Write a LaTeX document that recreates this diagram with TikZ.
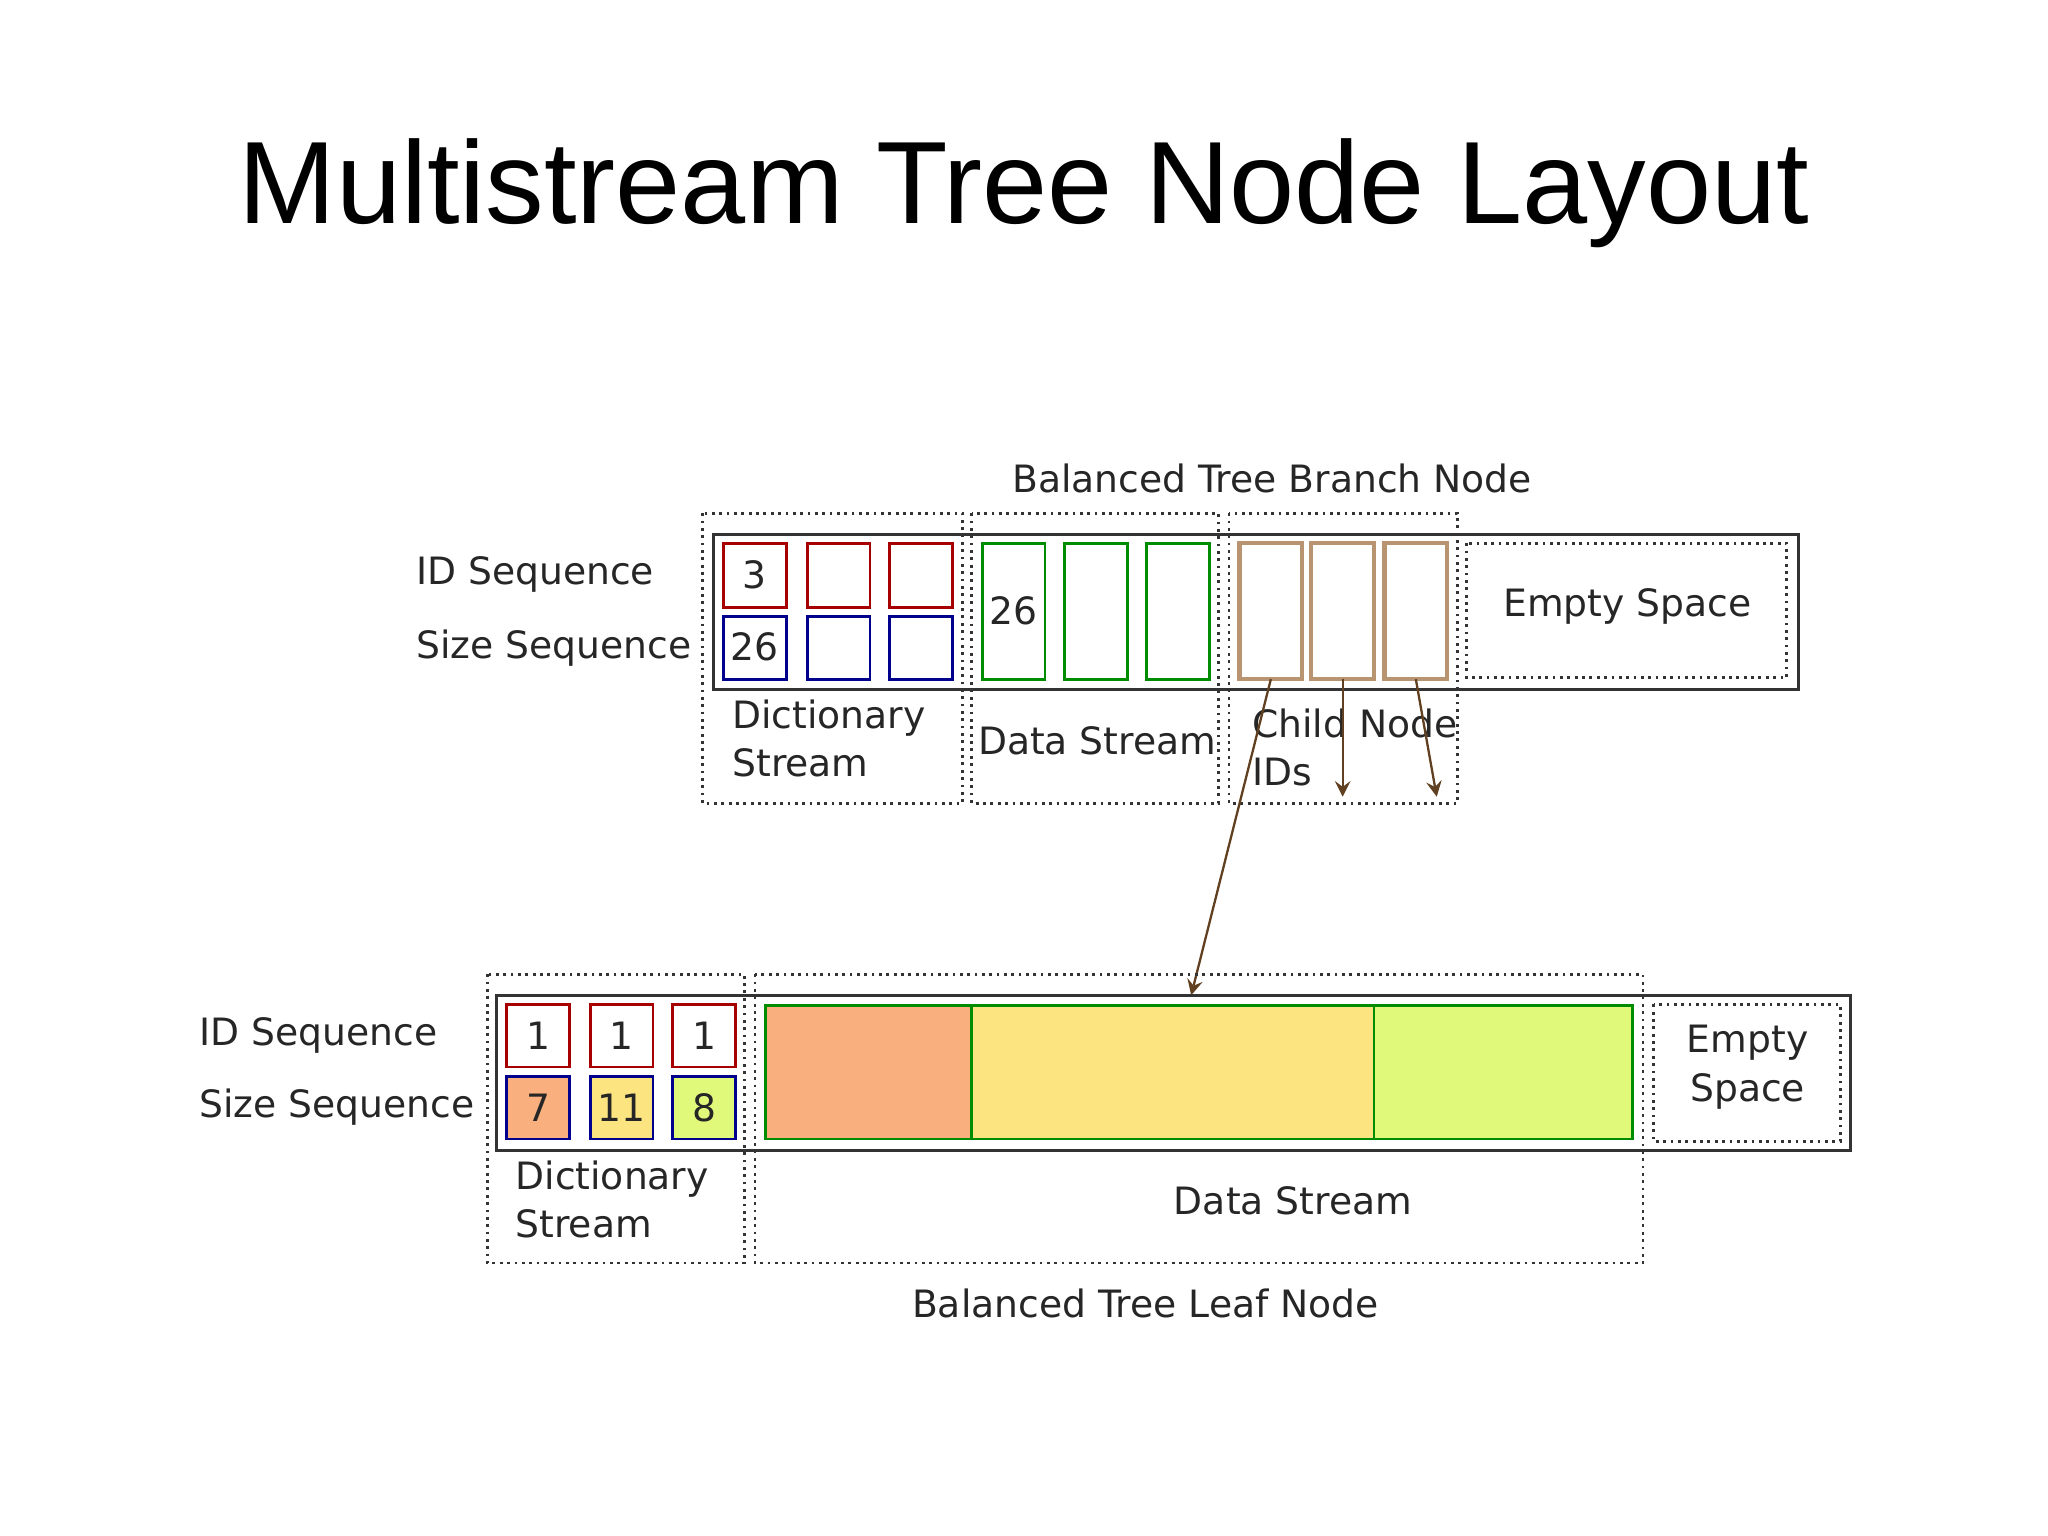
\documentclass[tikz,border=0pt]{standalone}
\usepackage{fontspec}
\setmainfont{DejaVu Sans}
\newfontfamily\titlef{Liberation Sans}
\begin{document}
\begin{tikzpicture}[x=0.01cm,y=-0.01cm,
  lbl/.style={font=\fontsize{8.2pt}{10.5pt}\selectfont,text=black!85,inner sep=0},
  grp/.style={densely dotted,line width=0.6pt,black!80},
  outer/.style={line width=0.7pt,black!80},
  rb/.style={draw=red!65!black,line width=0.6pt},
  bb/.style={draw=blue!55!black,line width=0.6pt},
  gb/.style={draw=green!55!black,line width=0.6pt},
  tb/.style={draw=brown!80!black!70,line width=0.9pt},
  arr/.style={-stealth,line width=0.5pt,brown!50!black}]
\useasboundingbox (0,0) rectangle (1568,1176);
\node[font=\titlef\fontsize{25.5pt}{30pt}\selectfont] (title) at (784,148) {Multistream Tree Node Layout};
% top
\draw[outer] (546,409) rectangle (1377,528);
\draw[grp] (538,393) rectangle (737,615);
\draw[grp] (744,393) rectangle (933,615);
\draw[grp] (941,393) rectangle (1116,615);
\draw[grp] (1123,416) rectangle (1368,519);
\foreach \x in {554,618,681}{\draw[rb] (\x,416) rectangle ++(48,49); \draw[bb] (\x,472) rectangle ++(48,48);}
\foreach \x in {752,815,878}{\draw[gb] (\x,416) rectangle ++(48,104);}
\foreach \x in {949,1004,1060}{\draw[tb] (\x,416) rectangle ++(48,104);}
\node[lbl] (tt) at (974,366) {Balanced Tree Branch Node};
\node[lbl,anchor=west] (id1) at (318,440) {ID Sequence};
\node[lbl,anchor=west] (sz1) at (318,496) {Size Sequence};
\node[lbl] (n3) at (578,440) {3};
\node[lbl] (n26) at (578,495) {26};
\node[lbl] (n26b) at (776,468) {26};
\node[lbl,anchor=north west,align=left] (ds1) at (560,535) {Dictionary\\Stream};
\node[lbl] (da1) at (840,567) {Data Stream};
\node[lbl,anchor=north west,align=left] (cn) at (958,542) {Child Node\\IDs};
\node[lbl] (es1) at (1246,464) {Empty Space};
\coordinate (a1) at (973,520); \coordinate (b1) at (912,762);
\coordinate (a2) at (1028,520); \coordinate (b2) at (1028,610);
\coordinate (a3) at (1084,520); \coordinate (b3) at (1100,610);
\draw[arr] (a1) -- (b1);
\draw[arr] (a2) -- (b2);
\draw[arr] (a3) -- (b3);
% bottom
\draw[outer] (380,762) rectangle (1417,881);
\draw[grp] (373,746) rectangle (570,967);
\draw[grp] (578,746) rectangle (1258,967);
\draw[grp] (1266,769) rectangle (1409,874);
\foreach \x in {388,452,515}{\draw[rb] (\x,769) rectangle ++(48,48);}
\draw[bb,fill={rgb,255:red,249;green,176;blue,126}] (388,824) rectangle ++(48,48);
\draw[bb,fill={rgb,255:red,252;green,228;blue,129}] (452,824) rectangle ++(48,48);
\draw[bb,fill={rgb,255:red,225;green,249;blue,122}] (515,824) rectangle ++(48,48);
\draw[gb,fill={rgb,255:red,249;green,176;blue,126}] (586,770) rectangle (744,872);
\draw[gb,fill={rgb,255:red,252;green,228;blue,129}] (744,770) rectangle (1052,872);
\draw[gb,fill={rgb,255:red,225;green,249;blue,122}] (1052,770) rectangle (1250,872);
\node[lbl] (o1) at (412,793) {1};
\node[lbl] (o2) at (476,793) {1};
\node[lbl] (o3) at (539,793) {1};
\node[lbl] (s1) at (412,848) {7};
\node[lbl] (s2) at (476,848) {11};
\node[lbl] (s3) at (539,848) {8};
\node[lbl,anchor=west] (id2) at (152,793) {ID Sequence};
\node[lbl,anchor=west] (sz2) at (152,848) {Size Sequence};
\node[lbl,anchor=north west,align=left] (ds2) at (394,888) {Dictionary\\Stream};
\node[lbl] (da2) at (990,919) {Data Stream};
\node[lbl] (lt) at (877,998) {Balanced Tree Leaf Node};
\node[lbl,align=center] (es2) at (1338,817) {Empty\\Space};
\end{tikzpicture}
\end{document}
